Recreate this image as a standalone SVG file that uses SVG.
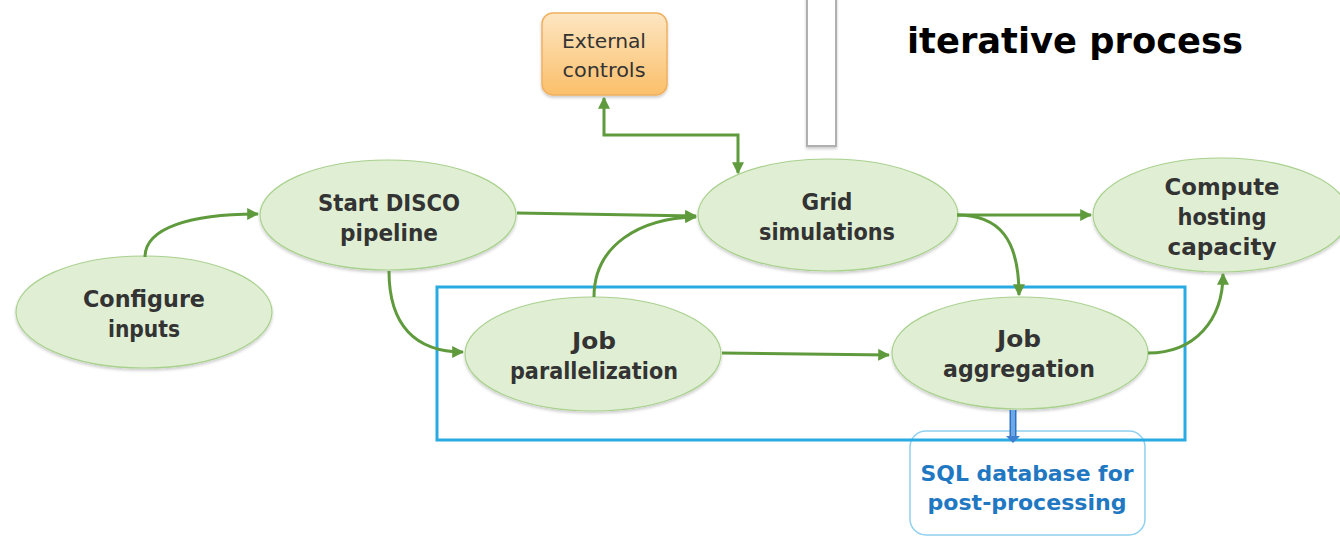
<svg xmlns="http://www.w3.org/2000/svg" width="1340" height="536" viewBox="0 0 1340 536">
<style>
.node ellipse{fill:#e0efd4;stroke:#a9d18e;stroke-width:1.2;filter:url(#sh)}
.lbl{font-family:"DejaVu Sans","Liberation Sans",sans-serif;font-weight:bold;font-size:23px;fill:#333;text-anchor:middle}
.conn path{fill:none;stroke:#5f9b3d;stroke-width:3}
.arr{marker-end:url(#ah)}
</style>
<defs>
<marker id="ah" viewBox="0 0 10 10" refX="9" refY="5" markerWidth="4" markerHeight="4" orient="auto-start-reverse" markerUnits="strokeWidth">
<path d="M0,0 L10,5 L0,10 z" fill="#5f9b3d"/>
</marker>
<linearGradient id="og" x1="0" y1="0" x2="0" y2="1">
<stop offset="0" stop-color="#fde6c2"/>
<stop offset="1" stop-color="#fbbf6a"/>
</linearGradient>
<filter id="sh" x="-10%" y="-10%" width="120%" height="130%">
<feDropShadow dx="0" dy="2" stdDeviation="1.5" flood-color="#000" flood-opacity="0.2"/>
</filter>
</defs>
<rect width="1340" height="536" fill="#fff"/>

<g id="sidebar">
<rect x="807" y="-5" width="29" height="151" fill="#fff" stroke="#b0b0b0" stroke-width="2" filter="url(#sh)"/>
</g>
<g id="title">
<text x="907" y="53" font-family="DejaVu Sans,Liberation Sans,sans-serif" font-weight="bold" font-size="35.5" fill="#000" textLength="336" lengthAdjust="spacingAndGlyphs">iterative process</text>
</g>

<g id="sql">
<rect x="910" y="431" width="235" height="104" rx="16" fill="#fff" stroke="#8fd0f0" stroke-width="1.5"/>
<text x="1027" y="481" font-family="DejaVu Sans,Liberation Sans,sans-serif" font-weight="bold" font-size="21" fill="#1f78c1" text-anchor="middle" textLength="213" lengthAdjust="spacingAndGlyphs">SQL database for</text>
<text x="1027" y="510" font-family="DejaVu Sans,Liberation Sans,sans-serif" font-weight="bold" font-size="21" fill="#1f78c1" text-anchor="middle" textLength="199" lengthAdjust="spacingAndGlyphs">post-processing</text>
</g>

<g id="group-box">
<rect x="437" y="287" width="748" height="153" fill="none" stroke="#29abe2" stroke-width="3"/>
</g>

<g id="external">
<rect x="542" y="13" width="125" height="82" rx="11" fill="url(#og)" stroke="#f0b060" stroke-width="1.5" filter="url(#sh)"/>
<text x="604" y="48" font-family="DejaVu Sans,Liberation Sans,sans-serif" font-size="20" fill="#333" text-anchor="middle" textLength="84" lengthAdjust="spacingAndGlyphs">External</text>
<text x="604" y="77" font-family="DejaVu Sans,Liberation Sans,sans-serif" font-size="20" fill="#333" text-anchor="middle" textLength="83" lengthAdjust="spacingAndGlyphs">controls</text>
</g>

<g id="n-configure" class="node">
<ellipse cx="144" cy="312" rx="128" ry="56"/>
<text class="lbl" x="144" y="307" textLength="122" lengthAdjust="spacingAndGlyphs">Configure</text>
<text class="lbl" x="144" y="337" textLength="72" lengthAdjust="spacingAndGlyphs">inputs</text>
</g>
<g id="n-start" class="node">
<ellipse cx="388" cy="215" rx="128" ry="55"/>
<text class="lbl" x="389" y="211" textLength="142" lengthAdjust="spacingAndGlyphs">Start DISCO</text>
<text class="lbl" x="389" y="241" textLength="98" lengthAdjust="spacingAndGlyphs">pipeline</text>
</g>
<g id="n-grid" class="node">
<ellipse cx="828" cy="215" rx="130" ry="56"/>
<text class="lbl" x="827" y="210" textLength="51" lengthAdjust="spacingAndGlyphs">Grid</text>
<text class="lbl" x="827" y="240" textLength="136" lengthAdjust="spacingAndGlyphs">simulations</text>
</g>
<g id="n-compute" class="node">
<ellipse cx="1221" cy="215" rx="128" ry="57"/>
<text class="lbl" x="1222" y="195" textLength="115" lengthAdjust="spacingAndGlyphs">Compute</text>
<text class="lbl" x="1222" y="225" textLength="89" lengthAdjust="spacingAndGlyphs">hosting</text>
<text class="lbl" x="1222" y="255" textLength="109" lengthAdjust="spacingAndGlyphs">capacity</text>
</g>
<g id="n-parallel" class="node">
<ellipse cx="593" cy="354" rx="128" ry="57"/>
<text class="lbl" x="594" y="349" textLength="44" lengthAdjust="spacingAndGlyphs">Job</text>
<text class="lbl" x="594" y="379" textLength="168" lengthAdjust="spacingAndGlyphs">parallelization</text>
</g>
<g id="n-aggregation" class="node">
<ellipse cx="1020" cy="353" rx="128" ry="56"/>
<text class="lbl" x="1019" y="347" textLength="44" lengthAdjust="spacingAndGlyphs">Job</text>
<text class="lbl" x="1019" y="377" textLength="152" lengthAdjust="spacingAndGlyphs">aggregation</text>
</g>

<g id="connectors" class="conn">
<path class="arr" d="M145,257 C145,228 190,214 258,214"/>
<path class="arr" d="M517,213 L696,216"/>
<path class="arr" d="M389,271 C389,325 415,352 463,352"/>
<path class="arr" d="M594,297 C594,245 640,218 696,217"/>
<path class="arr" d="M722,353 L889,355"/>
<path class="arr" d="M957,215 L1091,215"/>
<path class="arr" d="M957,215 C1000,215 1019,240 1019,295"/>
<path class="arr" d="M1148,353 C1195,353 1223,320 1223,274"/>
<path class="arr" style="marker-start:url(#ah)" d="M604,98 L604,135 L738,135 L738,173"/>
<path d="M1013,410 L1013,437" style="stroke:#2f6fbf;stroke-width:7"/>
<path d="M1013,410 L1013,437" style="stroke:#6aa8e8;stroke-width:4"/>
<path d="M1006,436 L1020,436 L1013,443 z" style="fill:#3f7fd0;stroke:none"/>
</g>
</svg>
